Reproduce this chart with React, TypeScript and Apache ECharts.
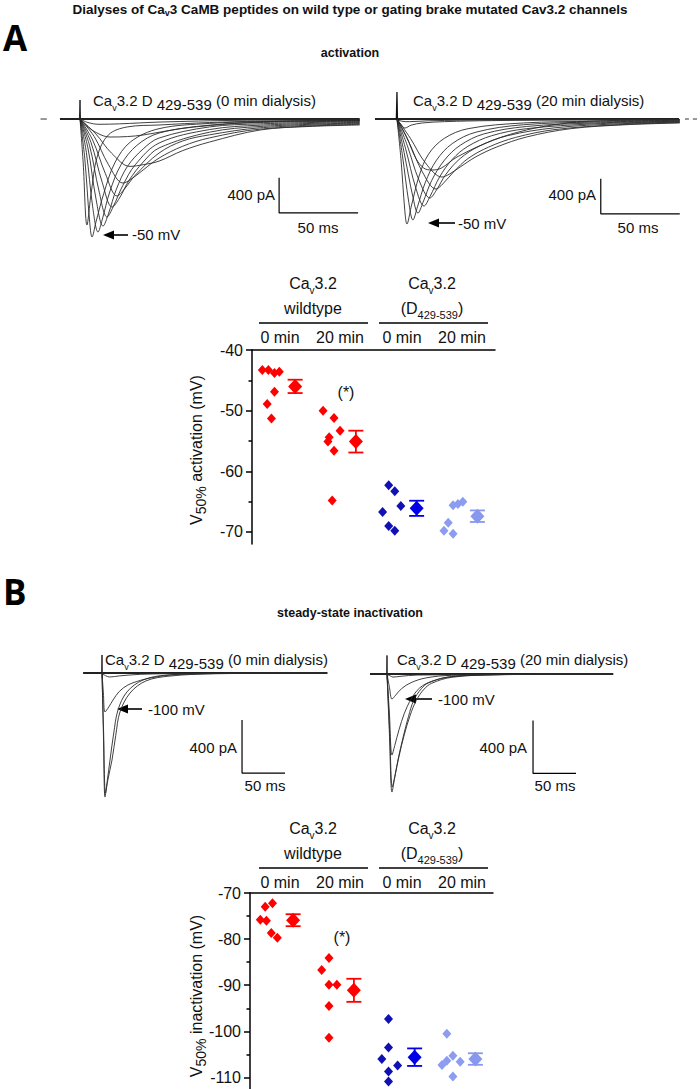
import React, { useEffect, useRef } from "react";
import * as echarts from "echarts";

const FONT = "'Liberation Sans', Arial, Helvetica, sans-serif";

// ---------------- scatter data (V50 values, mV) ----------------
const groupLabels = ["0 min", "20 min", "0 min", "20 min"];

const actWt0 = [-43.3, -43.3, -43.8, -43.6, -46.9, -48.9, -51.3];
const actWt0X = [-0.13, -0.03, 0.07, 0.15, 0.07, -0.05, 0.02];
const actWt20 = [-50.0, -51.2, -53.3, -54.4, -55.1, -56.6, -64.8];
const actWt20X = [-0.13, 0.05, 0.15, -0.03, -0.05, 0.05, 0.02];
const actD0 = [-62.3, -63.3, -66.7, -65.7, -69.0, -69.8];
const actD0X = [-0.05, 0.05, -0.15, 0.15, -0.05, 0.05];
const actD20 = [-69.8, -68.5, -70.3, -65.6, -65.4, -65.0];
const actD20X = [-0.14, -0.07, 0.01, 0.01, 0.09, 0.17];
const actMean = [-46.0, -55.1, -66.1, -67.4];
const actSem = [1.1, 1.8, 1.25, 0.95];

const inWt0 = [-75.8, -76.0, -73.0, -72.2, -78.7, -79.7];
const inWt0X = [-0.13, -0.03, -0.05, 0.07, 0.05, 0.15];
const inWt20 = [-84.1, -86.7, -89.9, -89.9, -94.5, -101.4];
const inWt20X = [0, -0.12, 0, 0.13, 0, 0];
const inD0 = [-97.3, -103.5, -106.0, -107.4, -108.7, -110.9];
const inD0X = [-0.02, -0.02, -0.13, 0.13, -0.02, -0.02];
const inD20 = [-100.5, -105.3, -106.4, -107.3, -106.6, -109.8];
const inD20X = [-0.06, 0.04, -0.06, -0.14, 0.16, 0.04];
const inMean = [-75.9, -91.1, -105.6, -106.0];
const inSem = [1.3, 2.5, 1.9, 1.25];

const actTicks = [-70, -60, -50, -40];
const actMinor = [-65, -55, -45];
const inTicks = [-110, -100, -90, -80, -70];
const inMinor = [-105, -95, -85, -75];

const pointColors = ["#ff0000", "#ff0000", "#1010b4", "#8c9cf0"];
const meanColors = ["#ff0000", "#ff0000", "#0000e6", "#8898ee"];

// ---------------- current traces ([ms, pA]) ----------------
// A: activation, 0 min dialysis
const actTraces0 = [
  [[0, 0], [2, -500], [4.4, -1208], [7, -850], [11, -420], [18, -180], [30, -90], [50, -68], [82, -40], [114, -25], [177, -15]],
  [[0, 0], [3, -450], [6, -1150], [7.6, -1345], [10, -1180], [15, -850], [22, -500], [32, -260], [50, -110], [82, -50], [114, -30], [177, -18]],
  [[0, 0], [4, -380], [8, -1000], [11.4, -1288], [14, -1150], [19, -820], [26, -520], [36, -300], [50, -160], [82, -70], [114, -40], [177, -25]],
  [[0, 0], [5, -330], [10, -900], [14.6, -1220], [18, -1080], [23, -800], [30, -540], [40, -340], [50, -217], [82, -90], [114, -55], [177, -30]],
  [[0, 0], [6, -300], [12, -820], [17.1, -1117], [21, -1000], [27, -760], [35, -520], [50, -274], [82, -120], [114, -70], [177, -38]],
  [[0, 0], [7, -270], [14, -720], [20.3, -1003], [25, -900], [31, -700], [40, -490], [50, -330], [82, -150], [114, -85], [177, -45]],
  [[0, 0], [8, -240], [16, -620], [23.4, -878], [28, -800], [35, -640], [50, -388], [65, -250], [82, -180], [114, -100], [177, -52]],
  [[0, 0], [9, -200], [18, -520], [27.2, -730], [32, -690], [40, -580], [50, -445], [65, -310], [82, -215], [114, -115], [177, -60]],
  [[0, 0], [10, -170], [20, -390], [31.6, -540], [40, -520], [50, -480], [65, -360], [82, -262], [114, -125], [145, -85], [177, -68]],
  [[0, 0], [8, -130], [19, -205], [30, -200], [40, -182], [55, -135], [72, -91], [114, -34], [177, -15]],
  [[0, 0], [5, -40], [12, -60], [25, -55], [50, -35], [100, -15], [177, -8]],
];
// A: activation, 20 min dialysis
const actTraces20 = [
  [[0, 0], [2.5, -450], [5, -1050], [6.3, -1197], [9, -1000], [14, -650], [20, -400], [30, -220], [45, -110], [80, -45], [125, -25], [179, -15]],
  [[0, 0], [3.5, -420], [7.5, -950], [10.1, -1151], [13, -1000], [18, -720], [25, -470], [35, -280], [50, -150], [80, -65], [125, -35], [179, -20]],
  [[0, 0], [4.5, -380], [10, -880], [13.3, -1072], [16.5, -950], [22, -700], [30, -470], [40, -300], [55, -170], [82, -85], [125, -45], [179, -25]],
  [[0, 0], [5.5, -340], [12, -790], [17.1, -992], [21, -880], [27, -660], [35, -460], [45, -310], [60, -190], [82, -110], [125, -55], [179, -30]],
  [[0, 0], [6.5, -300], [14, -700], [20.9, -900], [25, -810], [31, -630], [40, -450], [52, -310], [70, -190], [100, -100], [140, -55], [179, -35]],
  [[0, 0], [7.5, -260], [16, -600], [24.7, -798], [29, -740], [36, -600], [45, -450], [58, -320], [75, -210], [100, -120], [140, -65], [179, -40]],
  [[0, 0], [8.5, -220], [18, -500], [28.5, -661], [33, -630], [40, -547], [50, -430], [63, -320], [82, -205], [110, -110], [145, -65], [179, -45]],
  [[0, 0], [6, -200], [12, -450], [17, -560], [22, -581], [28, -560], [38, -433], [61, -240], [82, -125], [103, -57], [124, -23], [179, -10]],
  [[0, 0], [2.5, -60], [5, -103], [9, -70], [16, -45], [30, -30], [60, -18], [120, -10], [179, -5]],
  [[0, 0], [3, -25], [8, -30], [20, -20], [60, -10], [179, -5]],
];
// B: steady-state inactivation test pulses, 0 min
const inTraces0 = [
  [[0, 0], [1.6, -450], [3.5, -936], [6, -820], [9.3, -657], [13.5, -460], [18.6, -279], [29, -143], [47.7, -53], [75.6, -15], [130, -4], [262, 0]],
  [[0, 0], [1.8, -430], [4.1, -906], [7, -800], [11.6, -657], [16, -470], [20.9, -294], [32.6, -151], [51, -60], [79, -23], [130, -6], [262, 0]],
  [[0, 0], [1.6, -150], [3.5, -294], [8, -255], [12.8, -204], [20, -140], [30, -91], [45, -55], [56, -38], [80, -15], [130, -4], [262, 0]],
  [[0, 0], [4, -20], [9, -30], [20, -22], [45, -10], [100, -3], [262, 0]],
];
// B: 20 min
const inTraces20 = [
  [[0, 0], [2.8, -450], [5.8, -891], [9, -780], [13, -640], [19, -470], [25, -320], [31, -200], [40, -110], [48, -68], [71, -23], [125, -5], [263, 0]],
  [[0, 0], [3, -420], [6.2, -853], [9.5, -760], [14, -620], [20, -460], [27, -310], [34, -200], [43, -115], [52, -70], [75, -25], [125, -6], [263, 0]],
  [[0, 0], [2.8, -300], [5.8, -612], [9, -540], [14, -420], [20, -300], [28, -190], [38, -105], [52, -55], [75, -20], [125, -5], [263, 0]],
  [[0, 0], [2.8, -100], [5.8, -189], [10, -160], [17, -110], [28, -65], [45, -30], [75, -10], [263, 0]],
  [[0, 0], [4, -15], [7, -23], [15, -18], [35, -8], [263, 0]],
];

// baselines (start, end ms), capacitive spikes, dashed zero marks and scale bars
const actBase0 = [[-12.7, 0], [177, 0]];
const actBase20 = [[-13.9, 0], [178.5, 0]];
const inBase0 = [[-22, 0], [261.6, 0]];
const inBase20 = [[-19.8, 0], [262.8, 0]];
const actSpike0 = [[-0.4, 0], [0, 217], [0.4, -60], [1, 0]];
const actSpike20 = [[-0.4, 0], [0, 330], [0.4, -60], [1, 0]];
const inSpike0 = [[-0.4, 0], [0, 136], [0.4, -40], [1, 0]];
const inSpike20 = [[-0.4, 0], [0, 140], [0.4, -40], [1, 0]];
const actZero0 = [[-25, 0], [-21, 0]];
const actZero20a = [[182.3, 0], [184.8, 0]];
const actZero20b = [[187.3, 0], [189.9, 0]];
const actScale0 = [[126, -670], [126, -1070], [176, -1070]];
const actScale20 = [[129, -680], [129, -1080], [179, -1080]];
const inScale0 = [[162.8, -355], [162.8, -755], [212.8, -755]];
const inScale20 = [[169.8, -350], [169.8, -750], [219.8, -750]];

// ---------------- helpers ----------------
const TXT = "#111";
function txt(x: number, y: number, text: string, extra: any = {}) {
  return {
    type: "text",
    x,
    y,
    silent: true,
    style: {
      text,
      fontSize: 15,
      fontFamily: FONT,
      fill: TXT,
      align: "left",
      verticalAlign: "middle",
      ...extra,
    },
  };
}
const traceRich = {
  v: { fontSize: 9, lineHeight: 11, verticalAlign: "bottom", fontFamily: FONT, fill: TXT },
  s: { fontSize: 15, lineHeight: 14, verticalAlign: "bottom", fontFamily: FONT, fill: TXT },
};
const headRich = {
  v: { fontSize: 10, lineHeight: 12, verticalAlign: "bottom", fontFamily: FONT, fill: TXT },
  s: { fontSize: 11, lineHeight: 13, verticalAlign: "bottom", fontFamily: FONT, fill: TXT },
};
function hline(x1: number, x2: number, y: number, w = 1.5) {
  return { type: "line", silent: true, shape: { x1, y1: y, x2, y2: y }, style: { stroke: "#000", lineWidth: w } };
}
function arrow(xTail: number, xTip: number, y: number) {
  return [
    { type: "line", silent: true, shape: { x1: xTail, y1: y, x2: xTip + 9, y2: y }, style: { stroke: "#000", lineWidth: 1.6 } },
    { type: "polygon", silent: true, shape: { points: [[xTip, y], [xTip + 11, y - 4.5], [xTip + 11, y + 4.5]] }, style: { fill: "#000" } },
  ];
}

function lineSeries(data: number[][], xi: number, yi: number, width = 0.9, color = "#2b2b2b", smooth: any = 0.35, extra: any = {}) {
  return {
    type: "line",
    xAxisIndex: xi,
    yAxisIndex: yi,
    data,
    symbol: "none",
    showSymbol: false,
    smooth,
    silent: true,
    lineStyle: { color, width, ...extra },
    z: 2,
  };
}

function scatterGroupSeries(values: number[], jit: number[], g: number, xi: number, yi: number) {
  return {
    type: "scatter",
    xAxisIndex: xi,
    yAxisIndex: yi,
    symbol: "diamond",
    symbolSize: [9, 10],
    itemStyle: { color: pointColors[g], opacity: 1 },
    silent: true,
    z: 3,
    data: values.map((v, i) => [g + 0.3 + jit[i], v]),
  };
}
function meanSeries(means: number[], xi: number, yi: number) {
  return {
    type: "scatter",
    xAxisIndex: xi,
    yAxisIndex: yi,
    symbol: "diamond",
    symbolSize: [14, 15],
    silent: true,
    z: 4,
    itemStyle: { opacity: 1 },
    data: means.map((m, g) => ({ value: [g + 0.71, m], itemStyle: { color: meanColors[g], opacity: 1 } })),
  };
}
function errSeries(means: number[], sems: number[], xi: number, yi: number) {
  return {
    type: "custom",
    xAxisIndex: xi,
    yAxisIndex: yi,
    silent: true,
    z: 3,
    data: means.map((m, g) => [g + 0.71, m, m - sems[g], m + sems[g], g]),
    encode: { x: 0, y: 1 },
    renderItem: (params: any, api: any) => {
      const x = api.value(0);
      const lo = api.coord([x, api.value(2)]);
      const hi = api.coord([x, api.value(3)]);
      const c = meanColors[api.value(4)];
      const w = 7.5;
      const st = { stroke: c, lineWidth: 1.8 };
      return {
        type: "group",
        children: [
          { type: "line", shape: { x1: lo[0], y1: lo[1], x2: hi[0], y2: hi[1] }, style: st },
          { type: "line", shape: { x1: lo[0] - w, y1: lo[1], x2: lo[0] + w, y2: lo[1] }, style: st },
          { type: "line", shape: { x1: hi[0] - w, y1: hi[1], x2: hi[0] + w, y2: hi[1] }, style: st },
        ],
      };
    },
  };
}

function hiddenX(grid: number, min: number, max: number) {
  return { type: "value", gridIndex: grid, min, max, show: false };
}
function hiddenY(grid: number, min: number, max: number) {
  return { type: "value", gridIndex: grid, min, max, show: false };
}
function scatterX(grid: number) {
  return {
    type: "value",
    gridIndex: grid,
    min: 0,
    max: 4,
    position: "top",
    axisLine: { show: true, onZero: false, lineStyle: { color: "#000", width: 1.5 } },
    axisTick: { show: false },
    axisLabel: { show: false },
    splitLine: { show: false },
  };
}
function scatterY(grid: number, min: number, max: number, ticks: number[]) {
  return {
    type: "value",
    gridIndex: grid,
    min,
    max,
    position: "left",
    axisLine: { show: true, onZero: false, lineStyle: { color: "#000", width: 1.5 } },
    axisTick: { show: true, inside: false, length: 6, customValues: ticks, lineStyle: { color: "#000", width: 1.5 } },
    axisLabel: { show: true, customValues: ticks, margin: 9, fontSize: 16, color: TXT, fontFamily: FONT },
    splitLine: { show: false },
  };
}
function minorY(grid: number, min: number, max: number, ticks: number[]) {
  return {
    type: "value",
    gridIndex: grid,
    min,
    max,
    position: "left",
    offset: 0,
    axisLine: { show: false },
    axisTick: { show: true, inside: false, length: 3.5, customValues: ticks, lineStyle: { color: "#000", width: 1.5 } },
    axisLabel: { show: false },
    splitLine: { show: false },
  };
}

function traceTitle(x: number, y: number, label: string) {
  return txt(x, y, "Ca{v|v}3.2 D {s|429-539} (" + label + ")", { lineHeight: 24, rich: traceRich });
}

function scatterHeader(yAxisTop: number, yOff: number[]) {
  const out: any[] = [];
  out.push(txt(313, yAxisTop - yOff[0], "Ca{v|v}3.2", { align: "center", fontSize: 16, lineHeight: 24, rich: headRich }));
  out.push(txt(313, yAxisTop - yOff[1], "wildtype", { align: "center", fontSize: 16 }));
  out.push(txt(432, yAxisTop - yOff[0], "Ca{v|v}3.2", { align: "center", fontSize: 16, lineHeight: 24, rich: headRich }));
  out.push(txt(432, yAxisTop - yOff[1], "(D{s|429-539})", { align: "center", fontSize: 16, lineHeight: 24, rich: headRich }));
  out.push(hline(259, 368, yAxisTop - yOff[2]));
  out.push(hline(379, 488, yAxisTop - yOff[2]));
  const xs = [280, 340, 402, 462];
  groupLabels.forEach((g, i) => out.push(txt(xs[i], yAxisTop - yOff[3], g, { align: "center", fontSize: 16 })));
  return out;
}

function yLabel(x: number, y: number, rest: string) {
  return {
    type: "text",
    x,
    y,
    rotation: Math.PI / 2,
    silent: true,
    style: {
      text: "V{s|50%} " + rest,
      fontSize: 16,
      lineHeight: 24,
      fontFamily: FONT,
      fill: TXT,
      align: "center",
      verticalAlign: "middle",
      rich: { s: { fontSize: 14, lineHeight: 18, verticalAlign: "bottom", fontFamily: FONT, fill: TXT } },
    },
  };
}

export default function App() {
  const ref = useRef<HTMLDivElement>(null);
  useEffect(() => {
    if (!ref.current) return;
    const chart = echarts.init(ref.current, undefined, { renderer: "svg" });

    const graphic: any[] = [
      txt(350, 9, "Dialyses of Ca{v|v}3 CaMB peptides on wild type or gating brake mutated Cav3.2 channels", {
        align: "center",
        fontSize: 13.5,
        fontWeight: "bold",
        lineHeight: 17,
        rich: { v: { fontSize: 9, lineHeight: 10, verticalAlign: "bottom", fontWeight: "bold", fontFamily: FONT, fill: TXT } },
      }),
      txt(3, 37, "A", { fontSize: 35, fontWeight: "bold", fontFamily: "'Open Sans', 'Noto Sans', sans-serif", fill: "#000" }),
      txt(350, 53, "activation", { align: "center", fontSize: 12.5, fontWeight: "bold" }),
      traceTitle(93, 100, "0 min dialysis"),
      traceTitle(413, 100, "20 min dialysis"),
      txt(275, 194, "400 pA", { align: "right" }),
      txt(318, 227, "50 ms", { align: "center" }),
      txt(132, 234, "-50 mV"),
      ...arrow(128, 103, 235),
      txt(596, 194, "400 pA", { align: "right" }),
      txt(638, 227, "50 ms", { align: "center" }),
      txt(458, 223, "-50 mV"),
      ...arrow(455, 428, 223),
      ...scatterHeader(350, [67, 42, 27, 13]),
      txt(346, 392, "(*)", { align: "center", fontSize: 16 }),
      yLabel(196, 450, "activation (mV)"),
      // B
      txt(3, 591, "B", { fontSize: 35, fontWeight: "bold", fontFamily: "'Open Sans', 'Noto Sans', sans-serif", fill: "#000" }),
      txt(350, 613, "steady-state inactivation", { align: "center", fontSize: 12.5, fontWeight: "bold" }),
      traceTitle(105, 659, "0 min dialysis"),
      traceTitle(397, 659, "20 min dialysis"),
      txt(237, 747, "400 pA", { align: "right" }),
      txt(265, 785, "50 ms", { align: "center" }),
      txt(148, 709, "-100 mV"),
      ...arrow(142, 117, 709),
      txt(527, 747, "400 pA", { align: "right" }),
      txt(555, 785, "50 ms", { align: "center" }),
      txt(438, 699, "-100 mV"),
      ...arrow(432, 405, 699),
      ...scatterHeader(893, [65, 40, 25, 11]),
      txt(342, 937, "(*)", { align: "center", fontSize: 16 }),
      yLabel(196, 996, "inactivation (mV)"),
    ];

    const series: any[] = [
      // A 0 min
      lineSeries(actBase0, 0, 0, 2, "#222", false),
      lineSeries(actZero0, 0, 0, 1, "#333", false),
      lineSeries(actSpike0, 0, 0, 1, "#222", false),
      ...actTraces0.map((d) => lineSeries(d, 0, 0)),
      lineSeries(actScale0, 0, 0, 1.2, "#000", false),
      // A 20 min
      lineSeries(actBase20, 1, 1, 2, "#222", false),
      lineSeries(actZero20a, 1, 1, 1, "#333", false),
      lineSeries(actZero20b, 1, 1, 1, "#333", false),
      lineSeries(actSpike20, 1, 1, 1.2, "#111", false),
      ...actTraces20.map((d) => lineSeries(d, 1, 1)),
      lineSeries(actScale20, 1, 1, 1.2, "#000", false),
      // A scatter
      scatterGroupSeries(actWt0, actWt0X, 0, 2, 2),
      scatterGroupSeries(actWt20, actWt20X, 1, 2, 2),
      scatterGroupSeries(actD0, actD0X, 2, 2, 2),
      scatterGroupSeries(actD20, actD20X, 3, 2, 2),
      errSeries(actMean, actSem, 2, 2),
      meanSeries(actMean, 2, 2),
      // B 0 min
      lineSeries(inBase0, 3, 3, 2, "#222", false),
      lineSeries(inSpike0, 3, 3, 1, "#222", false),
      ...inTraces0.map((d) => lineSeries(d, 3, 3)),
      lineSeries(inScale0, 3, 3, 1.2, "#000", false),
      // B 20 min
      lineSeries(inBase20, 4, 4, 2, "#222", false),
      lineSeries(inSpike20, 4, 4, 1, "#222", false),
      ...inTraces20.map((d) => lineSeries(d, 4, 4)),
      lineSeries(inScale20, 4, 4, 1.2, "#000", false),
      // B scatter
      scatterGroupSeries(inWt0, inWt0X, 0, 5, 5),
      scatterGroupSeries(inWt20, inWt20X, 1, 5, 5),
      scatterGroupSeries(inD0, inD0X, 2, 5, 5),
      scatterGroupSeries(inD20, inD20X, 3, 5, 5),
      errSeries(inMean, inSem, 5, 5),
      meanSeries(inMean, 5, 5),
    ];

    chart.setOption({
      animation: false,
      backgroundColor: "#ffffff",
      grid: [
        { left: 35, top: 92.7, width: 325, height: 166.7 },
        { left: 375, top: 92.7, width: 325, height: 166.7 },
        { left: 252, top: 350, width: 243, height: 194.1 },
        { left: 75, top: 646.5, width: 265, height: 159 },
        { left: 365, top: 647.5, width: 275, height: 159 },
        { left: 250, top: 893, width: 243, height: 196.6 },
      ],
      xAxis: [
        hiddenX(0, -28.5, 177.2),
        hiddenX(1, -13.9, 191.8),
        scatterX(2),
        hiddenX(3, -31.4, 276.7),
        hiddenX(4, -25.6, 294.2),
        scatterX(5),
      ],
      yAxis: [
        hiddenY(0, -1600, 300),
        hiddenY(1, -1600, 300),
        scatterY(2, -72, -40, actTicks),
        hiddenY(3, -1000, 200),
        hiddenY(4, -1000, 200),
        scatterY(5, -112.5, -70, inTicks),
        minorY(2, -72, -40, actMinor),
        minorY(5, -112.5, -70, inMinor),
      ],
      series,
      graphic,
    });
    return () => chart.dispose();
  }, []);
  return (
    <div
      ref={ref}
      style={{ position: "absolute", left: 0, top: 0, width: 700, height: 1089, background: "#fff" }}
    />
  );
}
